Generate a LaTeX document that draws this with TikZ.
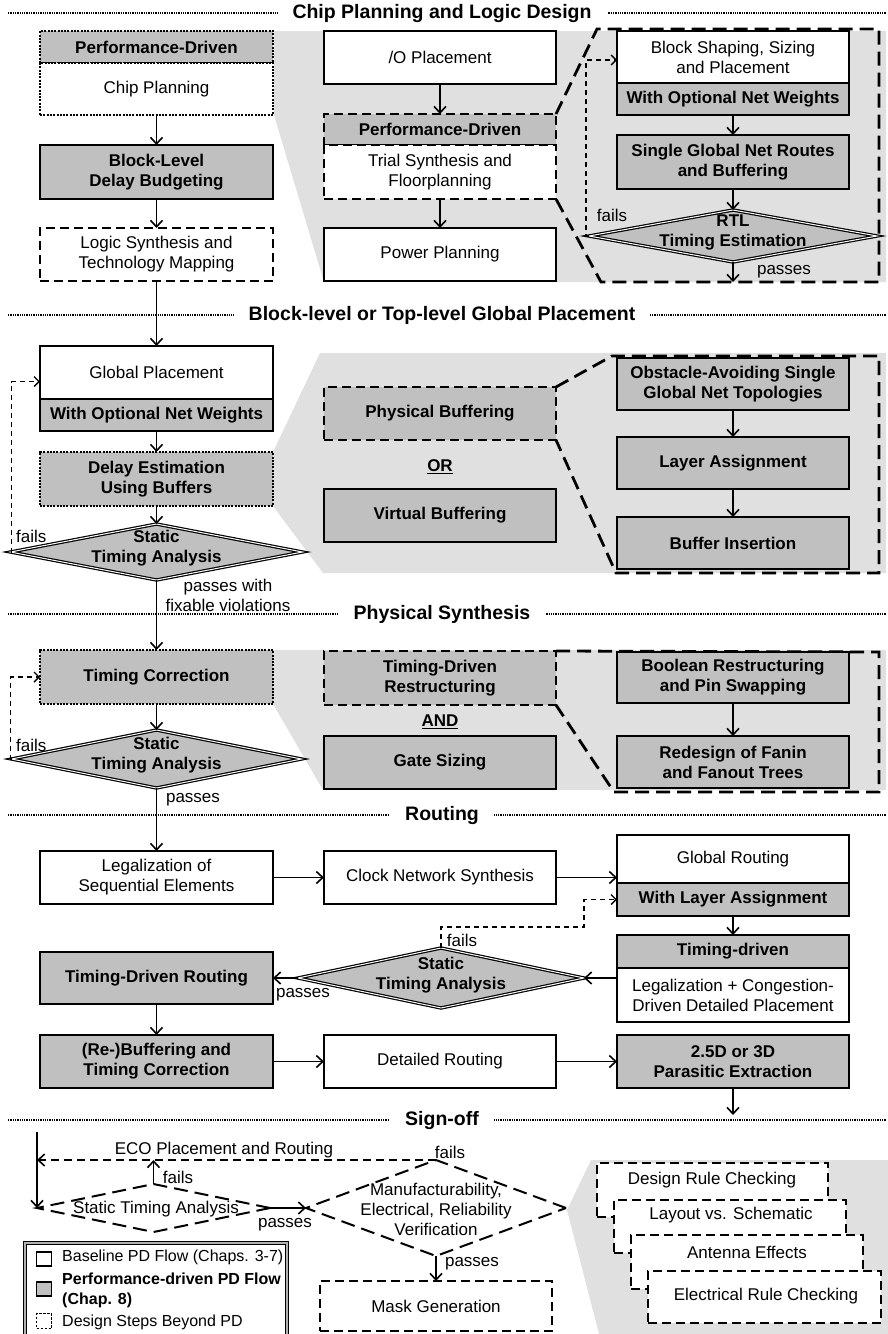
\documentclass[tikz,border=0pt]{standalone}
\usepackage{fontspec}
\setmainfont{Liberation Sans}
\usetikzlibrary{shapes.geometric,arrows.meta}
\definecolor{boxgray}{HTML}{C0C0C0}
\definecolor{bggray}{HTML}{E0E0E0}
\newcommand{\mybox}[7]{\node[#6, minimum width={(#4)-(#2)}, minimum height={(#5)-(#3)}] (#1) at ({((#2)+(#4))/2},{((#3)+(#5))/2}) {#7};}
\newcommand{\myhdr}[3]{\draw[sepln] (8,#2) -- (886,#2); \node[hdrs] (#1) at (442,#2) {#3};}
\begin{document}
\begin{tikzpicture}[x=1pt,y=-1pt,
  every node/.style={font=\fontsize{17}{20}\selectfont, text=black, inner sep=2pt},
  base/.style={rectangle, align=center, line width=2pt, outer sep=0pt},
  wbox/.style={base, draw, fill=white},
  gbox/.style={base, draw, fill=boxgray, font=\fontsize{17}{20}\selectfont\bfseries},
  dotbox/.style={dash pattern=on 2pt off 1.3pt, line width=2.5pt},
  dashbox/.style={dash pattern=on 9pt off 5pt, line width=2.2pt},
  arr/.style={-{Straight Barb[length=6.5pt,width=12pt]}, line width=1.6pt},
  fb/.style={-{Straight Barb[length=5pt,width=10pt]}, line width=1.4pt, dash pattern=on 5pt off 4pt},
  ecoln/.style={-{Straight Barb[length=6.5pt,width=12pt]}, line width=1.6pt, dash pattern=on 8pt off 5pt},
  zoomln/.style={line width=2.8pt, dash pattern=on 14pt off 7pt},
  sepln/.style={line width=2pt, dash pattern=on 1.3pt off 1pt},
  hdrs/.style={font=\fontsize{19.5}{22}\selectfont\bfseries, fill=white, inner xsep=15pt, inner ysep=2pt},
  dmd/.style={diamond, draw, fill=boxgray, line width=1.2pt, double=white, double distance=1pt, inner sep=0pt, outer sep=0pt},
  ddmd/.style={diamond, draw, fill=white, line width=2pt, dash pattern=on 14pt off 7pt, inner sep=0pt, outer sep=0pt},
  bld/.style={font=\fontsize{17}{20}\selectfont\bfseries},
  lbl/.style={inner sep=1pt, align=center},
  legt/.style={anchor=west, align=left, font=\fontsize{16}{19}\selectfont},
]
\useasboundingbox (0,0) rectangle (888,1334);

% ---------- background regions ----------
\fill[bggray] (274,31) -- (886,31) -- (886,282) -- (324,282) -- (274,115) -- cycle;
\fill[bggray] (273,452) -- (320,353) -- (886,353) -- (886,573) -- (323,573) -- (273,506) -- cycle;
\fill[bggray] (273,650) -- (886,650) -- (886,790) -- (323,790) -- (273,704) -- cycle;
\fill[bggray] (567,1210) -- (591,1160) -- (888,1160) -- (888,1334) -- (599,1334) -- cycle;

% ---------- headers ----------
\myhdr{h1}{13}{Chip Planning and Logic Design}
\myhdr{h2}{315}{Block-level or Top-level Global Placement}
\myhdr{h3}{614}{Physical Synthesis}
\myhdr{h4}{815}{Routing}
\myhdr{h5}{1120}{Sign-off}

% ---------- section 1 ----------
\mybox{pd1}{40}{31}{273}{63}{gbox,dotbox}{Performance-Driven}
\mybox{cp}{40}{63}{273}{115}{wbox,dotbox}{Chip Planning}
\mybox{bl}{40}{145}{273}{199}{gbox}{Block-Level\\Delay Budgeting}
\mybox{ls}{40}{228}{273}{281}{wbox,dashbox}{Logic Synthesis and\\Technology Mapping}
\mybox{io}{324}{31}{556}{84}{wbox}{/O Placement}
\mybox{pd2}{324}{114}{556}{145}{gbox,dashbox}{Performance-Driven}
\mybox{ts}{324}{145}{556}{199}{wbox,dashbox}{Trial Synthesis and\\Floorplanning}
\mybox{pp}{324}{228}{556}{281}{wbox}{Power Planning}
\draw[zoomln] (pd2.north east) -- (597,29) -- (879,29) -- (879,282) -- (601,282) -- (ts.south east);
\mybox{bs}{617}{31}{849}{83}{wbox}{Block Shaping, Sizing\\and Placement}
\mybox{ow1}{617}{83}{849}{115}{gbox}{With Optional Net Weights}
\mybox{sg}{617}{135}{849}{189}{gbox}{Single Global Net Routes\\and Buffering}
\node[dmd, minimum width=288, minimum height=52] (rtl) at (733,236) {};
\node[bld, align=center] (rtlT) at (733,232) {RTL\\Timing Estimation};
\coordinate (p1end) at (733,282);
\draw[arr] (cp) -- (bl);
\draw[arr] (bl) -- (ls);
\draw[arr] (io) -- (pd2);
\draw[arr] (ts) -- (pp);
\draw[arr] (ow1) -- (sg);
\draw[arr] (sg) -- (rtl);
\draw[fb] (rtl.west) -- ++(-3,0) |- ([yshift=-3pt]bs.west);
\draw[arr] (rtl.south) -- (p1end);
\node[lbl] (f1) at (612,215) {fails};
\node[lbl] (p1) at (784,272) {passes};

% ---------- section 2 ----------
\mybox{gp}{40}{346}{273}{399}{wbox}{Global Placement}
\mybox{ow2}{40}{399}{273}{431}{gbox}{With Optional Net Weights}
\mybox{de}{40}{452}{273}{506}{gbox,dotbox}{Delay Estimation\\Using Buffers}
\node[dmd, minimum width=292, minimum height=56] (sta1) at (156.5,552) {};
\node[bld, align=center] (sta1T) at (156.5,548) {Static\\Timing Analysis};
\mybox{pb}{324}{387}{556}{440}{gbox,dashbox}{Physical Buffering}
\node[bld] (or) at (440,467) {\underline{OR}};
\mybox{vb}{324}{489}{556}{542}{gbox}{Virtual Buffering}
\draw[zoomln] (pb.north east) -- (612,356) -- (879,356) -- (879,573) -- (616,573) -- (pb.south east);
\mybox{oa}{617}{358}{849}{410}{gbox}{Obstacle-Avoiding Single\\Global Net Topologies}
\mybox{la}{617}{437}{849}{489}{gbox}{Layer Assignment}
\mybox{bi}{617}{517}{849}{569}{gbox}{Buffer Insertion}
\draw[arr] (ls) -- (gp);
\draw[arr] (ow2) -- (de);
\draw[arr] (de) -- (sta1);
\draw[arr] (oa) -- (la);
\draw[arr] (la) -- (bi);
\draw[fb] (sta1.west) -- ++(1,0) |- ([yshift=-9pt]gp.west);
\node[lbl, anchor=west] (f2) at (15,536) {fails};
\node[lbl] (p2) at (228,595) {passes with\\fixable violations};

% ---------- section 3 ----------
\mybox{tc}{40}{650}{273}{704}{gbox,dotbox}{Timing Correction}
\node[dmd, minimum width=290, minimum height=58] (sta2) at (156.5,759) {};
\node[bld, align=center] (sta2T) at (156.5,755) {Static\\Timing Analysis};
\mybox{tr}{324}{651}{556}{705}{gbox,dashbox}{Timing-Driven\\Restructuring}
\node[bld] (and) at (440,722) {\underline{AND}};
\mybox{gs}{324}{736}{556}{789}{gbox}{Gate Sizing}
\draw[zoomln] (tr.north east) -- (879,652) -- (879,792) -- (614,792) -- (tr.south east);
\mybox{br}{617}{652}{849}{703}{gbox}{Boolean Restructuring\\and Pin Swapping}
\mybox{rf}{617}{736}{849}{788}{gbox}{Redesign of Fanin\\and Fanout Trees}
\draw[arr] (sta1) -- (tc);
\draw[arr] (tc) -- (sta2);
\draw[arr] (br) -- (rf);
\draw[fb] (sta2.west) -- ++(-1,0) |- (tc.west);
\node[lbl, anchor=west] (f3) at (15,745) {fails};
\node[lbl] (p3) at (193,800) {passes};

% ---------- section 4 ----------
\mybox{lg}{40}{851}{273}{904}{wbox}{Legalization of\\Sequential Elements}
\mybox{cn}{324}{851}{556}{904}{wbox}{Clock Network Synthesis}
\mybox{gr}{617}{835}{849}{883}{wbox}{Global Routing}
\mybox{wl}{617}{883}{849}{916}{gbox}{With Layer Assignment}
\mybox{td}{617}{935}{849}{968}{gbox}{Timing-driven}
\mybox{lc}{617}{968}{849}{1022}{wbox}{Legalization + Congestion-\\Driven Detailed Placement}
\node[dmd, minimum width=286, minimum height=60] (sta3) at (441,978) {};
\node[bld, align=center] (sta3T) at (441,975) {Static\\Timing Analysis};
\mybox{tdr}{40}{952}{273}{1004}{gbox}{Timing-Driven Routing}
\mybox{rb}{40}{1035}{273}{1088}{gbox}{(Re-)Buffering and\\Timing Correction}
\mybox{dr}{324}{1035}{556}{1088}{wbox}{Detailed Routing}
\mybox{pe}{617}{1035}{849}{1088}{gbox}{2.5D or 3D\\Parasitic Extraction}
\coordinate (pend) at (733,1115);
\coordinate (fbk) at (584,927);
\draw[arr] (sta2) -- (lg);
\draw[arr] (lg) -- (cn);
\draw[arr] (cn.east) -- (cn.east -| gr.west);
\draw[arr] (wl) -- (td);
\draw[arr] (lc.west |- sta3.east) -- (sta3.east);
\draw[arr] (sta3.west) -- (tdr.east);
\draw[fb] (sta3.north) |- (fbk) |- (wl.west);
\draw[arr] (tdr) -- (rb);
\draw[arr] (rb) -- (dr);
\draw[arr] (dr) -- (pe);
\draw[arr] (pe) -- (pend);
\node[lbl] (f4) at (462,940) {fails};
\node[lbl] (p4) at (303,995) {passes};

% ---------- section 5 ----------
\coordinate (s0) at (37,1132);
\coordinate (ecoL) at (37,1160);
\node[ddmd, minimum width=233, minimum height=48] (sta4) at (153.5,1208) {};
\node (sta4T) at (156,1209) {Static Timing Analysis};
\node[ddmd, minimum width=260, minimum height=96] (mfg) at (436,1208) {};
\node[align=center] (mfgT) at (436,1209) {Manufacturability,\\Electrical, Reliability\\Verification};
\mybox{mg}{320}{1281}{552}{1331}{wbox,dashbox}{Mask Generation}
\draw[arr] (s0) -- (sta4.west);
\draw[ecoln] (mfg.north) -- (ecoL);
\draw[arr] (sta4.north) -- (sta4.north |- ecoL);
\draw[arr] (sta4.east) -- (mfg.west);
\draw[arr] (mfg.south) -- (mg.north);
\node[lbl] (eco) at (224,1150) {ECO Placement and Routing};
\node[lbl] (f5) at (178,1177) {fails};
\node[lbl] (f6) at (450,1152) {fails};
\node[lbl] (p5) at (285,1225) {passes};
\node[lbl] (p6) at (472,1264) {passes};

\node[wbox, dashbox, minimum width=231, minimum height=54] (drc) at (712.5,1190) {};
\node (drcT) at (712,1180) {Design Rule Checking};
\node[wbox, dashbox, minimum width=232, minimum height=53] (lvs) at (730,1226.5) {};
\node (lvsT) at (731,1215) {Layout vs. Schematic};
\node[wbox, dashbox, minimum width=232, minimum height=54] (ant) at (747,1262) {};
\node (antT) at (747,1252) {Antenna Effects};
\node[wbox, dashbox, minimum width=233, minimum height=52] (erc) at (764.5,1297) {};
\node (ercT) at (766,1296) {Electrical Rule Checking};

% ---------- legend ----------
\node[draw, fill=white, line width=1pt, double=gray!60, double distance=1.5pt, minimum width=262, minimum height=100, inner sep=0pt] (leg) at (156,1293) {};
\node[draw, fill=white, line width=1.6pt, minimum width=15, minimum height=14, inner sep=0pt] (lsq1) at (44,1259) {};
\node[draw, fill=boxgray, line width=1.6pt, minimum width=15, minimum height=14, inner sep=0pt] (lsq2) at (44,1289) {};
\node[draw, fill=white, line width=1.6pt, dash pattern=on 2.5pt off 1.5pt, minimum width=15, minimum height=15, inner sep=0pt] (lsq3) at (44,1321) {};
\node[legt] (lt1) at (60,1257) {Baseline PD Flow (Chaps. 3-7)};
\node[legt, font=\fontsize{16}{20}\selectfont\bfseries] (lt2) at (60,1290) {Performance-driven PD Flow\\(Chap. 8)};
\node[legt] (lt3) at (60,1322) {Design Steps Beyond PD};
\end{tikzpicture}
\end{document}
